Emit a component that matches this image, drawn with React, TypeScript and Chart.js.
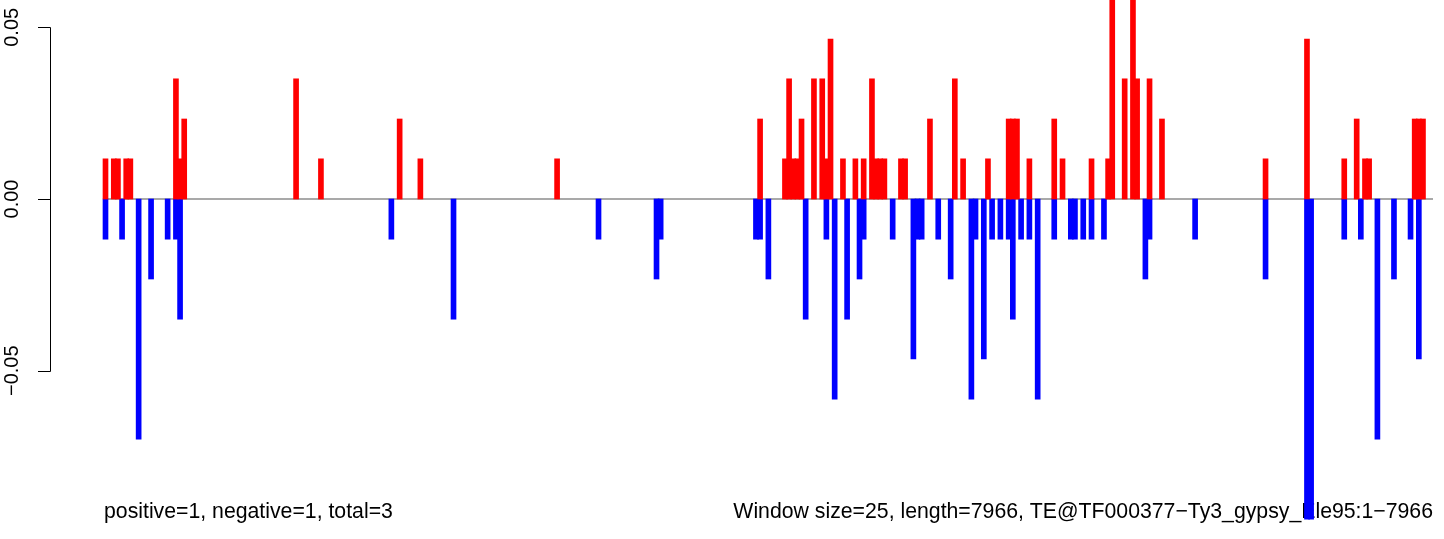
import React, { useEffect, useRef } from "react";
import { Chart, registerables } from "chart.js";

Chart.register(...registerables);

// window index (0-based, 25 bp windows) of every positive bar, and its value
const posWindows = [0, 2, 3, 5, 6, 17, 18, 19, 46, 52, 71, 76, 109, 158, 164, 165, 166, 167, 168, 171, 173, 174, 175, 178, 181, 183, 185, 186, 187, 188, 192, 193, 199, 205, 207, 213, 218, 219, 220, 223, 229, 231, 238, 242, 243, 246, 248, 249, 252, 255, 280, 290, 299, 302, 304, 305, 316, 317, 318];
const posValues = [0.0117, 0.0117, 0.0117, 0.0117, 0.0117, 0.035, 0.0117, 0.0233, 0.035, 0.0117, 0.0233, 0.0117, 0.0117, 0.0233, 0.0117, 0.035, 0.0117, 0.0117, 0.0233, 0.035, 0.035, 0.0117, 0.0466, 0.0117, 0.0117, 0.0117, 0.035, 0.0117, 0.0117, 0.0117, 0.0117, 0.0117, 0.0233, 0.035, 0.0117, 0.0117, 0.0233, 0.0233, 0.0233, 0.0117, 0.0233, 0.0117, 0.0117, 0.0117, 0.0583, 0.035, 0.0583, 0.035, 0.035, 0.0233, 0.0117, 0.0466, 0.0117, 0.0233, 0.0117, 0.0117, 0.0233, 0.0233, 0.0233];

// window index of every negative bar, and its value
const negWindows = [0, 4, 8, 11, 15, 17, 18, 69, 84, 119, 133, 134, 157, 158, 160, 169, 174, 176, 179, 182, 183, 190, 195, 196, 197, 201, 204, 209, 210, 212, 214, 216, 218, 219, 221, 223, 225, 229, 233, 234, 236, 238, 241, 251, 252, 263, 280, 290, 291, 299, 303, 307, 311, 315, 317];
const negValues = [-0.0117, -0.0117, -0.0699, -0.0233, -0.0117, -0.0117, -0.035, -0.0117, -0.035, -0.0117, -0.0233, -0.0117, -0.0117, -0.0117, -0.0233, -0.035, -0.0117, -0.0583, -0.035, -0.0233, -0.0117, -0.0117, -0.0466, -0.0117, -0.0117, -0.0117, -0.0233, -0.0583, -0.0117, -0.0466, -0.0117, -0.0117, -0.0117, -0.035, -0.0117, -0.0117, -0.0583, -0.0117, -0.0117, -0.0117, -0.0117, -0.0117, -0.0117, -0.0233, -0.0117, -0.0117, -0.0233, -0.0932, -0.0932, -0.0117, -0.0117, -0.0699, -0.0233, -0.0117, -0.0466];

const yTickValues = [0.05, 0, -0.05];
const yTickLabels = ["0.05", "0.00", "\u22120.05"];
const footLeft = "positive=1, negative=1, total=3";
const footRight = "Window size=25, length=7966, TE@TF000377\u2212Ty3_gypsy_Ele95:1\u22127966";

const FONT = '"Liberation Sans", Arial, Helvetica, sans-serif';

const rPlotPlugin = {
  id: "rPlot",
  beforeDatasetsDraw(chart: any) {
    const { ctx, chartArea } = chart;
    const y0 = chart.scales.y.getPixelForValue(0);
    ctx.save();
    ctx.strokeStyle = "#a9a9a9";
    ctx.lineWidth = 2;
    ctx.beginPath();
    ctx.moveTo(chartArea.left, y0);
    ctx.lineTo(chartArea.right + 1, y0);
    ctx.stroke();
    // footer texts (bars are drawn over them, as in the original)
    ctx.fillStyle = "#000";
    ctx.textBaseline = "alphabetic";
    ctx.font = "21.25px " + FONT;
    ctx.textAlign = "left";
    ctx.fillText(footLeft, chartArea.left + 1, 518);
    ctx.textAlign = "right";
    ctx.fillText(footRight, chartArea.right + 1, 518);
    ctx.restore();
  },
  afterDraw(chart: any) {
    const { ctx } = chart;
    const ys = chart.scales.y;
    ctx.save();
    // y axis line between the outer ticks
    const axisX = 50.5;
    const top = ys.getPixelForValue(yTickValues[0]);
    const bot = ys.getPixelForValue(yTickValues[yTickValues.length - 1]);
    ctx.strokeStyle = "#000";
    ctx.lineWidth = 1;
    ctx.beginPath();
    ctx.moveTo(axisX, Math.round(top) + 0.5);
    ctx.lineTo(axisX, Math.round(bot) + 0.5);
    yTickValues.forEach((v) => {
      const py = Math.round(ys.getPixelForValue(v)) + 0.5;
      ctx.moveTo(axisX, py);
      ctx.lineTo(38, py);
    });
    ctx.stroke();
    // rotated tick labels
    ctx.fillStyle = "#000";
    ctx.font = "20px " + FONT;
    ctx.textAlign = "center";
    ctx.textBaseline = "alphabetic";
    yTickValues.forEach((v, i) => {
      const py = ys.getPixelForValue(v);
      ctx.save();
      ctx.translate(18, py);
      ctx.rotate(-Math.PI / 2);
      ctx.fillText(yTickLabels[i], 0, 0);
      ctx.restore();
    });
    ctx.restore();
  },
};

export default function App() {
  const canvasRef = useRef<HTMLCanvasElement | null>(null);

  useEffect(() => {
    const canvas = canvasRef.current;
    if (!canvas) return;
    const pitch = 4.143;
    const xMin = -2.5 / pitch;
    const xMax = xMin + 1329 / pitch;
    const chart = new Chart(canvas, {
      type: "bar",
      data: {
        datasets: [
          {
            label: "positive",
            data: posWindows.map((w, i) => ({ x: w, y: posValues[i] })),
            backgroundColor: "#ff0000",
            borderWidth: 0,
            barThickness: 5,
            grouped: false,
            clip: false,
          } as any,
          {
            label: "negative",
            data: negWindows.map((w, i) => ({ x: w, y: negValues[i] })),
            backgroundColor: "#0000ff",
            borderWidth: 0,
            barThickness: 5,
            grouped: false,
            clip: false,
          } as any,
        ],
      },
      options: {
        animation: false,
        responsive: false,
        devicePixelRatio: 1,
        layout: { padding: { left: 103, right: 12, top: 0, bottom: 39 } },
        plugins: {
          legend: { display: false },
          tooltip: { enabled: false },
          title: { display: false },
        },
        scales: {
          x: {
            type: "linear",
            display: false,
            offset: false,
            min: xMin,
            max: xMax,
          },
          y: {
            type: "linear",
            display: false,
            min: -0.08765,
            max: 0.05795,
          },
        },
      },
      plugins: [rPlotPlugin],
    });
    return () => chart.destroy();
  }, []);

  return (
    <div
      style={{
        position: "fixed",
        left: 0,
        top: 0,
        width: 1444,
        height: 539,
        background: "#ffffff",
      }}
    >
      <canvas ref={canvasRef} width={1444} height={539} style={{ display: "block" }} />
    </div>
  );
}
